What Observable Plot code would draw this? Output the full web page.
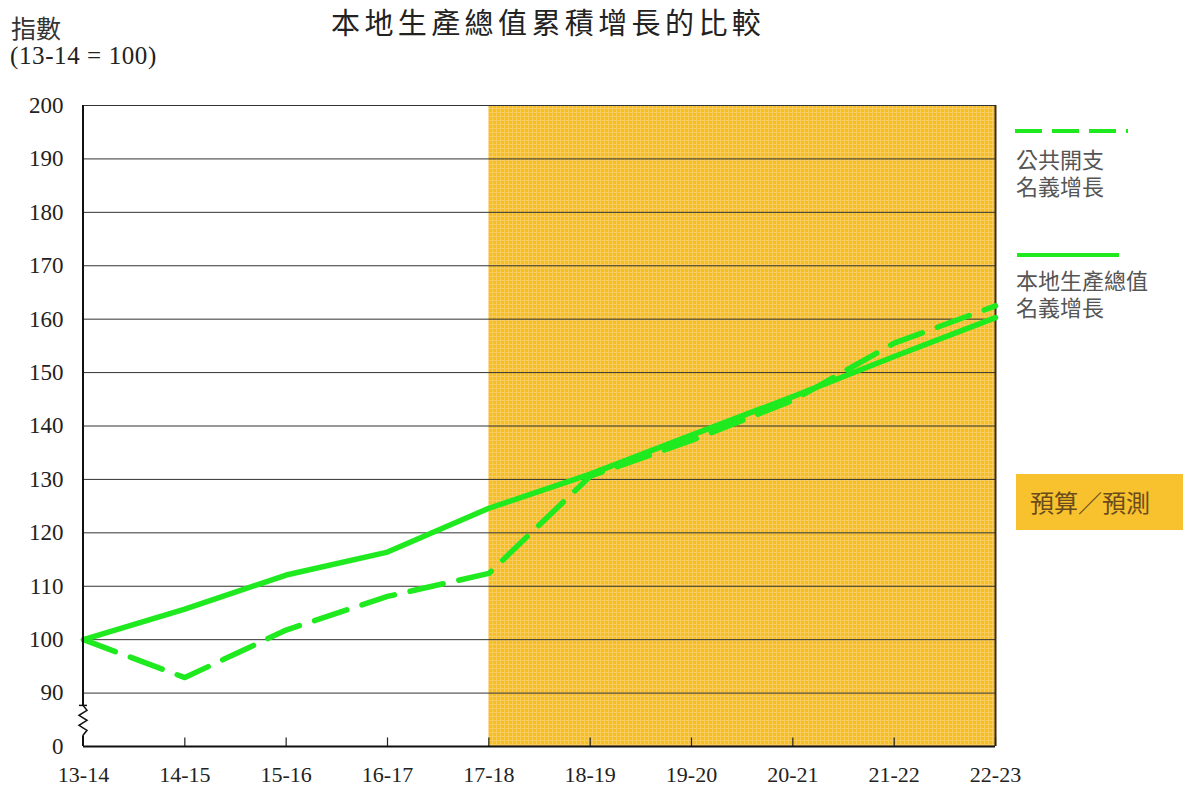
<!DOCTYPE html>
<html>
<head>
<meta charset="utf-8">
<script src="https://cdn.jsdelivr.net/npm/d3@7"></script>
<script src="https://cdn.jsdelivr.net/npm/@observablehq/plot@0.6"></script>
<style>
  body { margin: 0; background: #fff; }
  #wrap { position: relative; width: 1183px; height: 788px; overflow: hidden; }
  .t { position: absolute; white-space: pre; }
  .cjk { font-family: "Noto Sans CJK TC", "Noto Sans CJK SC", sans-serif; }
  .serif { font-family: "Liberation Serif", "DejaVu Serif", serif; }
</style>
</head>
<body>
<div id="wrap"></div>
<script>
// ---- data ----
const years = ["13-14","14-15","15-16","16-17","17-18","18-19","19-20","20-21","21-22","22-23"];
const gdpGrowth = [100, 105.7, 112.1, 116.4, 124.6, 131.0, 138.3, 145.5, 153.0, 160.3];
const spendingGrowth = [100, 92.9, 101.8, 108.1, 112.4, 130.6, 137.3, 144.8, 155.5, 162.5];
const yTicks = [80, 90, 100, 110, 120, 130, 140, 150, 160, 170, 180, 190, 200];
const yTickLabels = ["0", "90", "100", "110", "120", "130", "140", "150", "160", "170", "180", "190", "200"];
const forecastStart = "17-18";
const forecastEnd = "22-23";
const seriesNames = ["公共開支\n名義增長", "本地生產總值\n名義增長"];
const title = "本地生產總值累積增長的比較";
const yUnit1 = "指數";
const yUnit2 = "(13-14 = 100)";
const shadeLabel = "預算／預測";

const green = "#1FEA1F";
const idx = years.map((d, i) => i);
const gdpData = years.map((y, i) => ({i, v: gdpGrowth[i]}));
const spData = years.map((y, i) => ({i, v: spendingGrowth[i]}));
const shade = [{x1: years.indexOf(forecastStart), x2: years.indexOf(forecastEnd), y1: 80, y2: 200}];
const gridVals = yTicks.filter(d => d > 80);

const chart = Plot.plot({
  width: 1183,
  height: 788,
  marginLeft: 83,
  marginRight: 188,
  marginTop: 105,
  marginBottom: 42,
  style: {background: "transparent", overflow: "visible"},
  x: {type: "linear", domain: [0, years.length - 1]},
  y: {type: "linear", domain: [80, 200]},
  marks: [
    Plot.rect(shade, {x1: "x1", x2: "x2", y1: "y1", y2: "y2", fill: "url(#fcpat)"}),
    Plot.ruleY(gridVals, {stroke: "#333", strokeWidth: 1}),
    Plot.ruleX([years.indexOf(forecastEnd)], {y1: 80, y2: 200, stroke: "#3a2a10", strokeWidth: 2}),
    Plot.ruleX(idx.slice(1), {x: d => d, y1: 80, y2: 81.6, stroke: "#222", strokeWidth: 1.2}),
    Plot.line(spData, {x: "i", y: "v", stroke: green, strokeWidth: 5.5, strokeDasharray: "34,16", strokeLinejoin: "round"}),
    Plot.line(gdpData, {x: "i", y: "v", stroke: green, strokeWidth: 5.5, strokeLinejoin: "round", strokeLinecap: "round"}),
    Plot.ruleY([80], {stroke: "#111", strokeWidth: 2}),
    Plot.axisY({ticks: yTicks, tickFormat: d => yTickLabels[yTicks.indexOf(d)], tickSize: 0, tickPadding: 20,
      fontSize: 23, fontFamily: "Liberation Serif", fill: "#222", label: null}),
    Plot.axisX({ticks: idx, tickFormat: d => years[d], tickSize: 0, tickPadding: 20,
      fontSize: 22, fontFamily: "Liberation Serif", fill: "#222", label: null})
  ]
});

// pattern for the forecast shading
const ns = "http://www.w3.org/2000/svg";
const defs = document.createElementNS(ns, "defs");
defs.innerHTML = `<pattern id="fcpat" width="4" height="4" patternUnits="userSpaceOnUse">
  <rect width="4" height="4" fill="#F6BF1C"/>
  <rect x="0" y="0" width="1" height="4" fill="#F8CB62"/>
  <rect x="0" y="0" width="4" height="1" fill="#F8CB62"/>
</pattern>`;
chart.insertBefore(defs, chart.firstChild);

// left axis with break symbol, positioned through the scales
const xs = chart.scale("x"), ys = chart.scale("y");
const ax = xs.apply(0);
const yTop = ys.apply(200), yBot = ys.apply(80);
const yb1 = ys.apply(87.6), yb2 = ys.apply(82);
const g = document.createElementNS(ns, "g");
const zz = [];
const n = 6;
for (let k = 0; k <= n; k++) {
  const yy = yb1 + (yb2 - yb1) * k / n;
  const xx = k === 0 || k === n ? ax : ax + (k % 2 ? 4 : -4);
  zz.push(`${xx},${yy}`);
}
g.innerHTML = `<line x1="${ax}" x2="${ax}" y1="${yTop}" y2="${yb1}" stroke="#111" stroke-width="2"/>
<line x1="${ax}" x2="${ax}" y1="${yb2}" y2="${yBot}" stroke="#111" stroke-width="2"/>
<line x1="${ax-4}" x2="${ax+4}" y1="${yb1}" y2="${yb1}" stroke="#111" stroke-width="1.5"/>
<polyline points="${zz.join(" ")}" fill="none" stroke="#111" stroke-width="1.5"/>`;
chart.appendChild(g);

const wrap = document.getElementById("wrap");
chart.style.position = "absolute";
chart.style.left = "0px";
chart.style.top = "0px";
wrap.appendChild(chart);

function addText(txt, cls, css) {
  const d = document.createElement("div");
  d.className = "t " + cls;
  d.textContent = txt;
  Object.assign(d.style, css);
  wrap.appendChild(d);
  return d;
}
addText(title, "cjk", {left: "331px", top: "0px", fontSize: "29px", lineHeight: "normal", letterSpacing: "4.4px", color: "#222"});
addText(yUnit1, "cjk", {left: "11px", top: "14px", fontSize: "25px", lineHeight: "26px", color: "#333"});
addText(yUnit2, "serif", {left: "10px", top: "42px", fontSize: "25px", lineHeight: "28px", letterSpacing: "0.6px", color: "#222"});

// legend
const leg = document.createElementNS(ns, "svg");
leg.setAttribute("width", 1183); leg.setAttribute("height", 788);
leg.style.position = "absolute"; leg.style.left = "0"; leg.style.top = "0";
leg.innerHTML = `<line x1="1015" x2="1128" y1="131" y2="131" stroke="${green}" stroke-width="4" stroke-dasharray="27,10"/>
<line x1="1017" x2="1119" y1="255" y2="255" stroke="${green}" stroke-width="4"/>`;
wrap.appendChild(leg);
const lc = {fontSize: "22px", lineHeight: "27px", color: "#555", left: "1016px"};
addText(seriesNames[0], "cjk", {...lc, top: "145px"});
addText(seriesNames[1], "cjk", {...lc, top: "266px"});
addText(shadeLabel, "cjk", {left: "1016px", top: "474px", width: "167px", height: "56px", lineHeight: "56px",
  paddingLeft: "14px", boxSizing: "border-box", background: "#F7C22E", fontSize: "24px", color: "#6B4A1C"});
</script>
</body>
</html>
